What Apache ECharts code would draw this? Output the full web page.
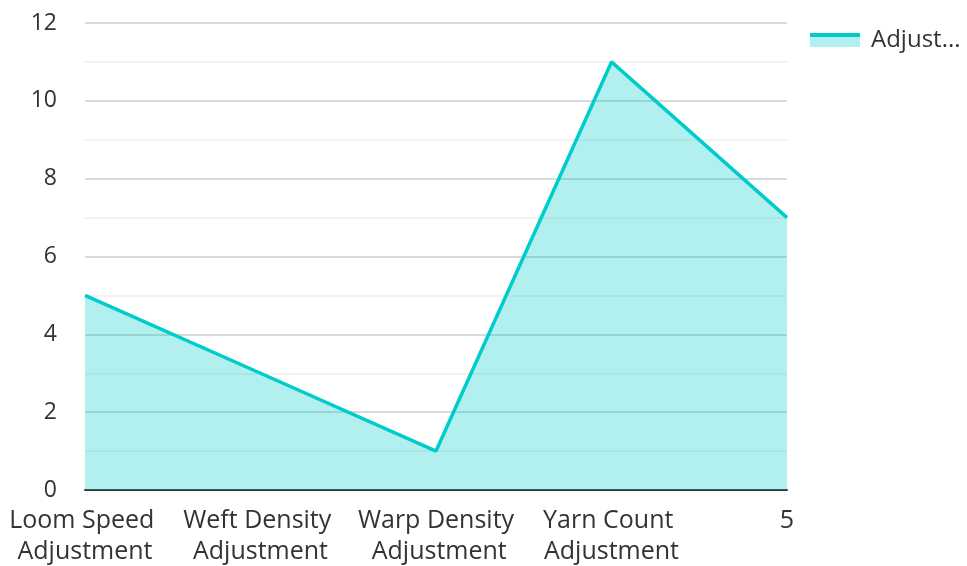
<!DOCTYPE html>
<html>
<head>
<meta charset="utf-8">
<script src="https://cdn.jsdelivr.net/npm/echarts@6/dist/echarts.min.js"></script>
<style>
  html, body { margin: 0; padding: 0; background: #fff; }
  #chart { width: 967px; height: 566px; }
</style>
</head>
<body>
<div id="chart"></div>
<script>
// Chart data
const categories = [
  "Loom Speed Adjustment",
  "Weft Density Adjustment",
  "Warp Density Adjustment",
  "Yarn Count Adjustment",
  "5",
];
const seriesName = "Adjustments";
const values = [5, 3, 1, 11, 7];

const chart = echarts.init(document.getElementById("chart"));
const option = {
  animation: false,
  textStyle: { fontFamily: "Open Sans" },
  legend: {
    left: 805,
    top: 23,
    itemWidth: 50,
    itemHeight: 14,
    icon: "rect",
    itemStyle: {
      color: new echarts.graphic.LinearGradient(0, 0, 0, 1, [
        { offset: 0, color: "#00cccc" },
        { offset: 0.29, color: "#00cccc" },
        { offset: 0.29, color: "#b2f0f0" },
        { offset: 1, color: "#b2f0f0" },
      ]),
    },
    textStyle: {
      fontSize: 24,
      color: "#333",
      width: 100,
      overflow: "truncate",
      padding: [0, 0, 0, 6],
    },
  },
  grid: {
    left: 85,
    right: 180,
    top: 23,
    bottom: 76,
    outerBoundsMode: "none",
  },
  xAxis: {
    type: "category",
    data: categories,
    boundaryGap: false,
    axisLine: { lineStyle: { color: "#333", width: 2 } },
    axisTick: { show: false },
    axisLabel: {
      color: "#333",
      fontSize: 25,
      lineHeight: 31,
      margin: 15,
      width: 160,
      overflow: "break",
      interval: 0,
    },
  },
  yAxis: {
    type: "value",
    min: 0,
    max: 12,
    interval: 2,
    axisLine: { show: false },
    axisTick: { show: false },
    axisLabel: { color: "#333", fontSize: 23, margin: 28 },
    splitLine: { lineStyle: { color: "#ccc", width: 1.5 } },
    minorTick: { show: false, splitNumber: 2 },
    minorSplitLine: { show: true, lineStyle: { color: "#eee", width: 1.5 } },
  },
  series: [
    {
      name: seriesName,
      type: "line",
      data: values,
      showSymbol: false,
      lineStyle: { color: "#00cccc", width: 3.5 },
      itemStyle: { color: "#00cccc" },
      areaStyle: { color: "#00cccc", opacity: 0.3 },
      z: 1,
    },
  ],
};
chart.setOption(option);
</script>
</body>
</html>
